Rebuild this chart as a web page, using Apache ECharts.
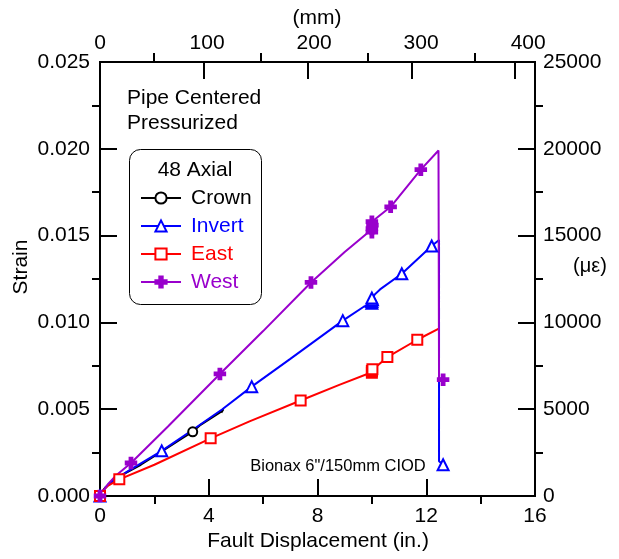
<!DOCTYPE html>
<html>
<head>
<meta charset="utf-8">
<script src="https://cdn.jsdelivr.net/npm/echarts@6/dist/echarts.min.js"></script>
<style>html,body{margin:0;padding:0;background:#fff;}#c{width:619px;height:559px;}</style>
</head>
<body>
<div id="c"></div>
<script>
// ---- data (x: fault displacement in., y: strain) ----
const seriesNames = ['Crown', 'Invert', 'East', 'West'];
const crown = [[0,0],[0.15,0.0004],[0.4,0.0008],[0.8,0.0012],[1.5,0.0018],[2.3,0.0026],[3.0,0.0033],[3.41,0.0037],[3.7,0.0041],[4.1,0.0045],[4.4,0.0048],[4.54,0.0050],[4.46,0.0048]];
const crownMarks = [0, 7];
const invert = [[0,0],[0.2,0.0005],[0.5,0.0009],[1.0,0.0014],[2.27,0.0026],[3.4,0.0038],[4.5,0.0050],[5.58,0.0063],[7.0,0.0079],[8.93,0.0101],[9.7,0.0109],[10.0,0.0111],[10.0,0.0112],[10.02,0.0113],[10.0,0.0114],[10.1,0.0116],[10.3,0.0119],[11.1,0.0128],[12.2,0.0144],[12.47,0.01475],[12.47,0.0020],[12.62,0.0018]];
const invertMarks = [0, 4, 7, 9, 11, 12, 13, 14, 17, 18, 21];
const east = [[0,0],[0.1,0.0003],[0.3,0.0006],[0.71,0.00096],[2.0,0.0018],[4.07,0.00332],[5.5,0.0043],[7.38,0.0055],[8.8,0.0064],[9.95,0.0071],[10.0,0.0071],[10.0,0.0072],[10.02,0.0073],[10.2,0.0075],[10.57,0.0080],[11.67,0.0090],[12.48,0.00966]];
const eastMarks = [0, 3, 5, 7, 10, 11, 12, 14, 15];
const west = [[0,0],[0.3,0.0007],[0.6,0.0012],[1.14,0.0019],[2.5,0.0040],[4.41,0.00703],[6.0,0.0095],[7.76,0.0123],[9.0,0.01405],[9.95,0.0153],[10.0,0.0152],[10.0,0.0154],[10.02,0.0156],[10.0,0.0158],[10.69,0.01666],[11.8,0.0188],[12.45,0.0199],[12.47,0.0068],[12.62,0.0067]];
const westMarks = [0, 3, 5, 7, 10, 11, 12, 13, 14, 15, 18];
const xTicks = [0, 4, 8, 12, 16];
const mmTicks = [0, 100, 200, 300, 400];
const strainTicks = [0, 0.005, 0.010, 0.015, 0.020, 0.025];
const microTicks = [0, 5000, 10000, 15000, 20000, 25000];

const FONT = '"Liberation Sans", Arial, sans-serif';
const colors = ['#000000', '#0000ff', '#ff0000', '#9900cc'];
const plusPath = 'path://M3.5,0h3v3.5h3.5v3h-3.5v3.5h-3v-3.5h-3.5v-3h3.5z';
const symbols = ['emptyCircle', 'emptyTriangle', 'emptyRect', plusPath];
const symSizes = [9, 11, 10, 11];
const lines = [crown, invert, east, west];
const marks = [crownMarks, invertMarks, eastMarks, westMarks];

function buildData(pts, mk) {
  return pts.map((p, i) => mk.indexOf(i) >= 0 ? { value: p } : { value: p, symbol: 'none' });
}

function tickStyle() { return { color: '#000', width: 2 }; }
function labelStyle(extra) { return Object.assign({ color: '#000', fontSize: 21, fontFamily: FONT }, extra); }
function axisLine() { return { show: true, onZero: false, lineStyle: { color: '#000', width: 2 } }; }
// helper axis that draws only the long (major) ticks as evenly split minor ticks;
// it sits on the opposite side of the plot (via offset) so its outward ticks point into the plot
function majorTickAxis(base, split) {
  return Object.assign({
    type: 'value', axisLine: { show: false, onZero: false }, splitLine: { show: false },
    axisLabel: { show: false }, axisTick: { show: false },
    minorTick: { show: true, splitNumber: split, length: 17, lineStyle: tickStyle() }
  }, base);
}

const GRID_W = 435, GRID_H = 434;
const pxPerMm = GRID_W / 406.4;

const chart = echarts.init(document.getElementById('c'));
chart.setOption({
  animation: false,
  backgroundColor: '#fff',
  grid: [
    { left: 100, right: 619 - 100 - GRID_W, top: 62, bottom: 559 - 62 - GRID_H, show: true, borderColor: '#000', borderWidth: 2, backgroundColor: 'transparent' },
    { left: 100, right: 619 - (100 + 400 * pxPerMm), top: 62, bottom: 559 - 62 - GRID_H },
    { left: 100, right: 619 - (100 + 500 * pxPerMm), top: 62, bottom: 559 - 62 - GRID_H }
  ],
  xAxis: [
    { type: 'value', gridIndex: 0, position: 'bottom', min: xTicks[0], max: xTicks[xTicks.length - 1], interval: 4,
      axisLine: axisLine(), splitLine: { show: false },
      axisTick: { show: false },
      minorTick: { show: true, splitNumber: 2, length: 8, lineStyle: tickStyle() },
      axisLabel: labelStyle({ margin: 10 }) },
    { type: 'value', gridIndex: 1, position: 'top', min: mmTicks[0], max: mmTicks[mmTicks.length - 1], interval: 100,
      axisLine: axisLine(), splitLine: { show: false },
      axisTick: { show: false },
      minorTick: { show: true, splitNumber: 2, length: 9, lineStyle: tickStyle() },
      axisLabel: labelStyle({ margin: 8 }) },
    majorTickAxis({ gridIndex: 0, position: 'top', offset: -GRID_H, min: 0, max: 16, interval: 16 }, 4),
    majorTickAxis({ gridIndex: 2, position: 'bottom', offset: -GRID_H, min: 0, max: 500, interval: 500 }, 5)
  ],
  yAxis: [
    { type: 'value', gridIndex: 0, position: 'left', min: strainTicks[0], max: strainTicks[strainTicks.length - 1], interval: 0.005,
      axisLine: axisLine(), splitLine: { show: false },
      axisTick: { show: false },
      minorTick: { show: true, splitNumber: 2, length: 8, lineStyle: tickStyle() },
      axisLabel: labelStyle({ margin: 10, formatter: v => v.toFixed(3) }) },
    { type: 'value', gridIndex: 0, position: 'right', min: microTicks[0], max: microTicks[microTicks.length - 1], interval: 5000,
      axisLine: axisLine(), splitLine: { show: false },
      axisTick: { show: false },
      minorTick: { show: true, splitNumber: 2, length: 8, lineStyle: tickStyle() },
      axisLabel: labelStyle({ margin: 8, formatter: v => String(Math.round(v)) }) },
    { type: 'value', gridIndex: 1, show: false, min: 0, max: 1, axisLine: { onZero: false } },
    majorTickAxis({ gridIndex: 0, position: 'right', offset: -GRID_W, min: 0, max: 0.025, interval: 0.025 }, 5),
    majorTickAxis({ gridIndex: 0, position: 'left', offset: -GRID_W, min: 0, max: 25000, interval: 25000 }, 5),
    { type: 'value', gridIndex: 2, show: false, min: 0, max: 1, axisLine: { onZero: false } }
  ],
  legend: {
    orient: 'vertical', left: 140, top: 187, padding: 0, itemWidth: 40, itemHeight: 14, itemGap: 6,
    selectedMode: false,
    textStyle: { fontSize: 21, fontFamily: FONT, lineHeight: 22, padding: [0, 0, 0, 5] },
    data: seriesNames.map((n, i) => ({ name: n, textStyle: { color: colors[i] } }))
  },
  series: seriesNames.map((n, i) => ({
    name: n, type: 'line', xAxisIndex: 0, yAxisIndex: 0,
    data: buildData(lines[i], marks[i]),
    symbol: symbols[i], symbolSize: symSizes[i], showSymbol: true, showAllSymbol: true,
    lineStyle: { color: colors[i], width: 2 },
    itemStyle: { color: colors[i], borderColor: colors[i], borderWidth: 1.5 },
    emphasis: { disabled: true }
  })),
  graphic: [
    { type: 'rect', shape: { x: 129.5, y: 149.5, width: 132, height: 155, r: 11 }, style: { fill: 'none', stroke: '#000', lineWidth: 1 }, z: 10 },
    { type: 'text', x: 195, y: 170, style: { text: '48 Axial', font: '21px ' + FONT, fill: '#000', textAlign: 'center', textVerticalAlign: 'middle' }, z: 10 },
    { type: 'text', x: 127, y: 98, style: { text: 'Pipe Centered', font: '21px ' + FONT, fill: '#000', textAlign: 'left', textVerticalAlign: 'middle' } },
    { type: 'text', x: 127, y: 123, style: { text: 'Pressurized', font: '21px ' + FONT, fill: '#000', textAlign: 'left', textVerticalAlign: 'middle' } },
    { type: 'text', x: 338, y: 466, style: { text: 'Bionax 6"/150mm CIOD', font: '16.5px ' + FONT, fill: '#000', textAlign: 'center', textVerticalAlign: 'middle' } },
    { type: 'text', x: 318, y: 541, style: { text: 'Fault Displacement (in.)', font: '21px ' + FONT, fill: '#000', textAlign: 'center', textVerticalAlign: 'middle' } },
    { type: 'text', x: 317, y: 18, style: { text: '(mm)', font: '21px ' + FONT, fill: '#000', textAlign: 'center', textVerticalAlign: 'middle' } },
    { type: 'text', x: 21, y: 267, rotation: Math.PI / 2, style: { text: 'Strain', font: '21px ' + FONT, fill: '#000', textAlign: 'center', textVerticalAlign: 'middle' } },
    { type: 'text', x: 590, y: 266, style: { text: '(\u03bc\u03b5)', font: '20px ' + FONT, fill: '#000', textAlign: 'center', textVerticalAlign: 'middle' } }
  ]
});
</script>
</body>
</html>
